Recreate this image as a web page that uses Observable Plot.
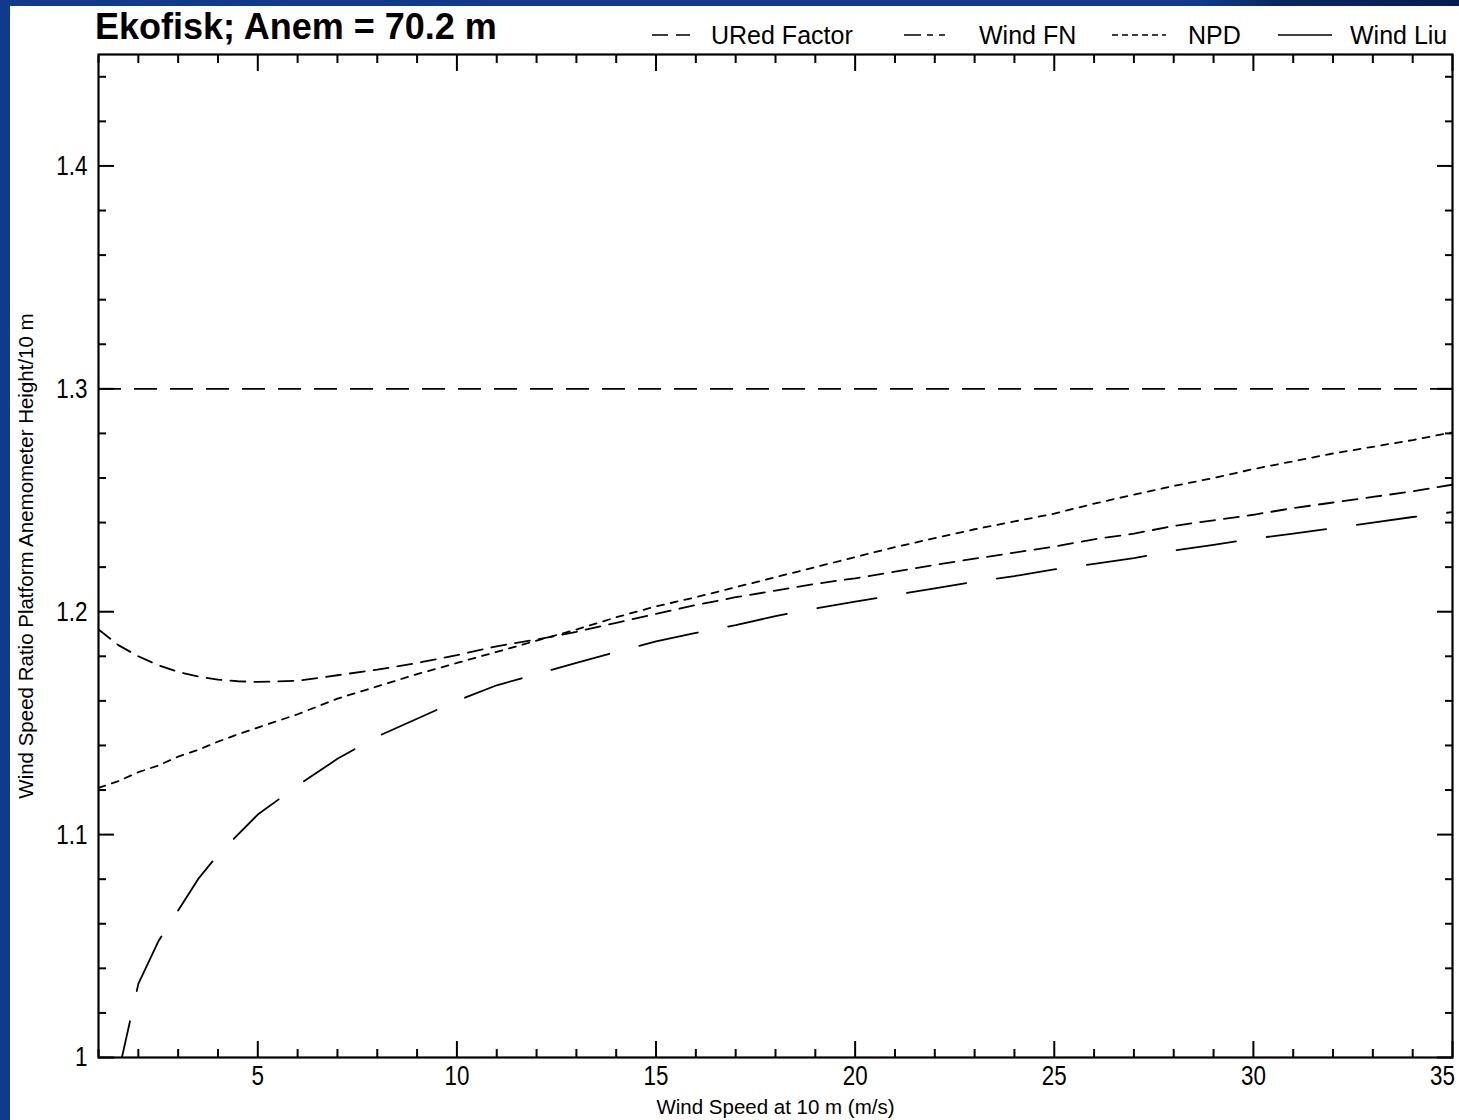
<!DOCTYPE html>
<html><head><meta charset="utf-8">
<script src="https://cdn.jsdelivr.net/npm/d3@7"></script>
<script src="https://cdn.jsdelivr.net/npm/@observablehq/plot@0.6"></script>
<style>
html,body{margin:0;padding:0;}
body{width:1459px;height:1120px;overflow:hidden;position:relative;background:#103a8c;font-family:"Liberation Sans",Arial,sans-serif;color:#000;}
#topband{position:absolute;left:0;top:0;width:1459px;height:6px;background:linear-gradient(to right,#103a8c 0%,#103a8c 82%,#0b2463 88%,#081c52 100%);}
#panel{position:absolute;left:10px;top:6px;right:0;bottom:0;background:#fff;}
#chart{position:absolute;left:0;top:0;}
#title{position:absolute;left:95px;top:9px;font-size:36px;line-height:36px;font-weight:bold;white-space:nowrap;}
.legtxt{position:absolute;top:23px;font-size:25px;line-height:25px;white-space:nowrap;}
.legsw{position:absolute;top:28px;height:14px;}
g[aria-label="x-axis label"] text, g[aria-label="y-axis label"] text{font-size:20.5px;font-family:"Liberation Sans",Arial,sans-serif;}
</style>
</head><body>
<div id="topband"></div>
<div id="panel"></div>
<div id="chart"></div>
<div id="title"></div>
<div id="legend"></div>
<script>
// ---- data ----
const windSpeed = [1,1.5,2,2.5,3,3.5,4,4.5,5,6,7,8,9,10,11,12,13,14,15,16,17,18,19,20,21,22,23,24,25,26,27,28,29,30,31,32,33,34,35];
const windLiu = [0.950,0.993,1.033,1.052,1.066,1.080,1.091,1.100,1.109,1.122,1.134,1.144,1.152,1.160,1.167,1.172,1.177,1.182,1.1867,1.1905,1.194,1.198,1.2015,1.2045,1.2075,1.2105,1.2135,1.216,1.219,1.2215,1.224,1.2275,1.230,1.2328,1.235,1.2375,1.240,1.2425,1.2447];
const windFN = [1.192,1.185,1.180,1.176,1.173,1.171,1.1695,1.1688,1.1685,1.169,1.1715,1.174,1.177,1.1805,1.1845,1.1875,1.191,1.195,1.199,1.203,1.2065,1.2095,1.2125,1.215,1.218,1.221,1.2238,1.2265,1.2292,1.2325,1.235,1.2385,1.241,1.2435,1.2465,1.249,1.2515,1.254,1.257];
const npd = [1.121,1.124,1.128,1.131,1.135,1.138,1.1417,1.145,1.148,1.154,1.161,1.1665,1.172,1.177,1.182,1.187,1.192,1.1975,1.2024,1.2065,1.211,1.2155,1.22,1.2245,1.229,1.233,1.237,1.2405,1.244,1.2485,1.2525,1.2564,1.26,1.264,1.2675,1.271,1.274,1.277,1.2805];
const uredFactor = 1.3;
const seriesNames = ["URed Factor","Wind FN","NPD","Wind Liu"];
const xMajorTicks = [5,10,15,20,25,30,35];
const xMinorTicks = [1,2,3,4,6,7,8,9,11,12,13,14,16,17,18,19,21,22,23,24,26,27,28,29,31,32,33,34];
const yMajorTicks = [1,1.1,1.2,1.3,1.4];
const yMinorTicks = [1.02,1.04,1.06,1.08,1.12,1.14,1.16,1.18,1.22,1.24,1.26,1.28,1.32,1.34,1.36,1.38,1.42,1.44];
const title = "Ekofisk; Anem = 70.2 m";
const xLabel = "Wind Speed at 10 m (m/s)";
const yLabel = "Wind Speed Ratio Platform Anemometer Height/10 m";

document.getElementById("title").textContent = title;

const rows = (ys) => windSpeed.map((x, i) => ({x, y: ys[i]}));
const dashes = {"URed Factor":"23,13","Wind FN":"15,9","NPD":"7,7","Wind Liu":"60,31"};
const legendDashes = {"URed Factor":"16,8","Wind FN":"17,6,6,6,6","NPD":"6,4","Wind Liu":null};
const tickFont = '"Liberation Sans",Arial,sans-serif';
const noText = () => "";
const lw = 1.8;

const chart = Plot.plot({
  width: 1459, height: 1120,
  marginLeft: 98, marginRight: 7, marginTop: 54, marginBottom: 63,
  x: {domain: [1, 35]},
  y: {domain: [1, 1.45]},
  style: {background: "transparent", fontFamily: tickFont, fontSize: "28px", color: "#000"},
  marks: [
    // ticks (inward, all four sides)
    Plot.axisX(xMajorTicks, {anchor: "bottom", tickSize: -16, tickFormat: noText, label: null, strokeWidth: 2}),
    Plot.axisX(xMinorTicks, {anchor: "bottom", tickSize: -8, tickFormat: noText, label: null, strokeWidth: 2}),
    Plot.axisX(xMajorTicks, {anchor: "top", tickSize: -16, tickFormat: noText, label: null, strokeWidth: 2}),
    Plot.axisX(xMinorTicks, {anchor: "top", tickSize: -8, tickFormat: noText, label: null, strokeWidth: 2}),
    Plot.axisY(yMajorTicks, {anchor: "left", tickSize: -16, tickFormat: noText, label: null, strokeWidth: 2}),
    Plot.axisY(yMinorTicks, {anchor: "left", tickSize: -8, tickFormat: noText, label: null, strokeWidth: 2}),
    Plot.axisY(yMajorTicks, {anchor: "right", tickSize: -16, tickFormat: noText, label: null, strokeWidth: 2}),
    Plot.axisY(yMinorTicks, {anchor: "right", tickSize: -8, tickFormat: noText, label: null, strokeWidth: 2}),
    // labels
    Plot.axisX(xMajorTicks, {anchor: "bottom", tickSize: 0, tickPadding: 8, label: xLabel, labelAnchor: "center", labelArrow: "none", labelOffset: 56}),
    Plot.axisY(yMajorTicks, {anchor: "left", tickSize: 0, tickPadding: 11, tickFormat: d => String(d), label: yLabel, labelAnchor: "center", labelArrow: "none", labelOffset: 80}),
    // data
    Plot.ruleY([uredFactor], {stroke: "#000", strokeWidth: lw, strokeDasharray: dashes["URed Factor"]}),
    Plot.lineY(rows(windFN), {x: "x", y: "y", stroke: "#000", strokeWidth: lw, strokeDasharray: dashes["Wind FN"], clip: true}),
    Plot.lineY(rows(npd), {x: "x", y: "y", stroke: "#000", strokeWidth: lw, strokeDasharray: dashes["NPD"], clip: true}),
    Plot.lineY(rows(windLiu), {x: "x", y: "y", stroke: "#000", strokeWidth: lw, strokeDasharray: dashes["Wind Liu"], clip: true}),
    Plot.frame({stroke: "#000", strokeWidth: 2.2})
  ]
});
document.getElementById("chart").appendChild(chart);

// narrow the tick label glyphs (reference uses a condensed face)
chart.querySelectorAll('g[aria-label="x-axis tick label"] text, g[aria-label="y-axis tick label"] text').forEach(t => {
  const w = t.getComputedTextLength();
  if (w > 0) {
    t.setAttribute("textLength", (w * 0.8).toFixed(1));
    t.setAttribute("lengthAdjust", "spacingAndGlyphs");
  }
});
// keep the last x label ("35") inside the window
[...chart.querySelectorAll('g[aria-label="x-axis tick label"] text')]
  .filter(t => t.textContent === "35")
  .forEach(t => t.setAttribute("x", -10));

// legend
const legendPos = [
  {sw: 652, w: 38, tx: 711},
  {sw: 904, w: 56, tx: 979},
  {sw: 1112, w: 54, tx: 1188},
  {sw: 1278, w: 54, tx: 1350}
];
const legend = document.getElementById("legend");
seriesNames.forEach((name, i) => {
  const p = legendPos[i];
  const svg = document.createElementNS("http://www.w3.org/2000/svg", "svg");
  svg.setAttribute("class", "legsw");
  svg.setAttribute("width", p.w);
  svg.setAttribute("height", 14);
  svg.style.left = p.sw + "px";
  const ln = document.createElementNS("http://www.w3.org/2000/svg", "line");
  ln.setAttribute("x1", 0); ln.setAttribute("x2", p.w);
  ln.setAttribute("y1", 7); ln.setAttribute("y2", 7);
  ln.setAttribute("stroke", "#000"); ln.setAttribute("stroke-width", 1.6);
  if (legendDashes[name]) ln.setAttribute("stroke-dasharray", legendDashes[name]);
  svg.appendChild(ln);
  legend.appendChild(svg);
  const t = document.createElement("div");
  t.className = "legtxt";
  t.style.left = p.tx + "px";
  t.textContent = name;
  legend.appendChild(t);
});
</script>
</body></html>
